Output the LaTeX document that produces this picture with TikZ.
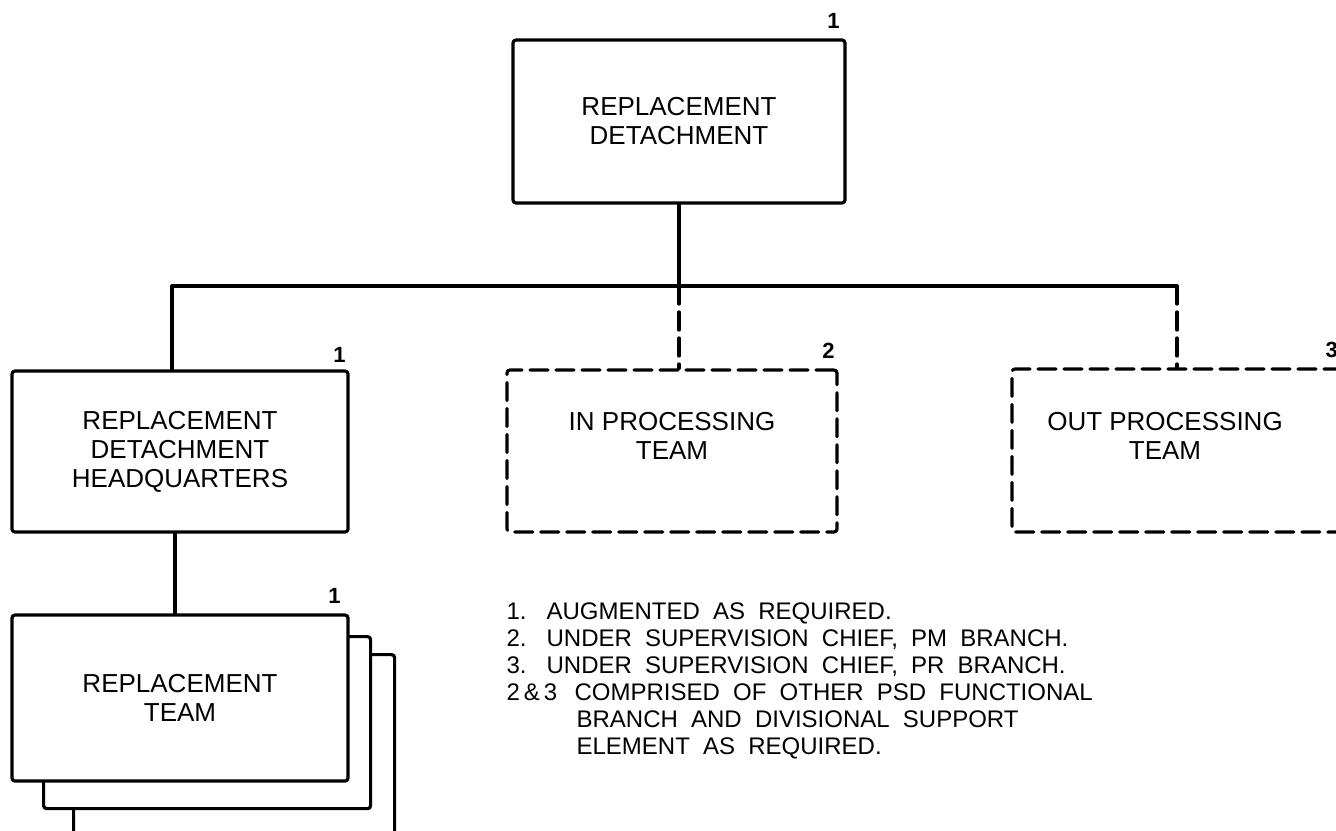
\documentclass[tikz,border=0pt]{standalone}
\usepackage{fontspec}
\setmainfont{Liberation Sans}
\usetikzlibrary{positioning}

\begin{document}
\begin{tikzpicture}[
            x = 0.5pt, y = -0.5pt, % one unit = one pixel of the chart
            line width = 1.6pt, % heavy inked lines
            line join = round,
            line cap = round
        ]

        \tikzstyle{unit}=[
            draw = black,
            fill = white,
            rounded corners = 1.5pt,
            align = center,
            inner sep = 0pt,
            font = \fontsize{13}{14.5}\selectfont
        ]
        \tikzstyle{attached}=[unit, dash pattern = on 9pt off 4pt]
        \tikzstyle{boxtext}=[align = center, font = \fontsize{13}{14.5}\selectfont]
        \tikzstyle{notemark}=[inner sep = 0pt, font = \bfseries\fontsize{11}{11}\selectfont]

        \useasboundingbox (0,0) rectangle (1336,830);

        % chain of command
        \node[unit, minimum width = 166pt, minimum height = 81.5pt] (det) at (679,121.5) {REPLACEMENT\\DETACHMENT};
        \node[unit, minimum width = 168pt, minimum height = 80.5pt] (hq) at (180,451.5) {REPLACEMENT\\DETACHMENT\\HEADQUARTERS};
        \node[attached, minimum width = 165pt, minimum height = 81pt] (inp) at (672,451) {};
        \node[attached, minimum width = 166.5pt, minimum height = 81.5pt] (outp) at (1178.5,450.5) {};
        \node[boxtext] (inptxt) at (672,436) {IN PROCESSING\\TEAM};
        \node[boxtext] (outptxt) at (1165,436) {OUT PROCESSING\\TEAM};

        % stacked replacement teams
        \node[unit, anchor = north west, minimum width = 160.5pt, minimum height = 130pt] (team3) at (72,653) {};
        \node[unit, anchor = north west, minimum width = 163.5pt, minimum height = 86pt] (team2) at (42,635) {};
        \node[unit, minimum width = 168pt, minimum height = 83pt] (team) at (180,698) {REPLACEMENT\\TEAM};

        % footnote marks
        \node[notemark] (m1) at ([shift={(-13,-17)}]det.north east) {1};
        \node[notemark] (m2) at ([shift={(-10,-14)}]hq.north east) {1};
        \node[notemark] (m3) at ([shift={(-10,-18)}]inp.north east) {2};
        \node[notemark] (m4) at ([shift={(-15,-17)}]outp.north east) {3};
        \node[notemark] (m5) at ([shift={(-15,-17)}]team.north east) {1};

        % connecting bus
        \coordinate (busl) at (172,286);
        \coordinate (busr) at (1177,286);
        \draw (busl) -- (busr);
        \draw (det.south) -- (det.south |- busl);
        \draw (busl) -- (busl |- hq.north);
        \draw[dash pattern = on 9pt off 4pt] (det.south |- busl) -- (det.south |- inp.north);
        \draw[dash pattern = on 9pt off 4pt] (busr) -- (busr |- outp.north);
        \draw ([xshift = -2.5pt]hq.south) -- ([xshift = -2.5pt]team.north);

        % notes
        \node[anchor = north west, align = left, inner sep = 0pt,
              font = {\fontsize{12}{13.5}\selectfont\spaceskip=0.55em\relax}] (notes) at (505,601) {%
            \makebox[20pt][l]{1.}AUGMENTED AS REQUIRED.\\
            \makebox[20pt][l]{2.}UNDER SUPERVISION CHIEF, PM BRANCH.\\
            \makebox[20pt][l]{3.}UNDER SUPERVISION CHIEF, PR BRANCH.\\
            \makebox[34pt][l]{2\kern2pt\&\kern2pt3}COMPRISED OF OTHER PSD FUNCTIONAL\\
            \hspace*{35pt}BRANCH AND DIVISIONAL SUPPORT\\
            \hspace*{35pt}ELEMENT AS REQUIRED.};
    \end{tikzpicture}
\end{document}
